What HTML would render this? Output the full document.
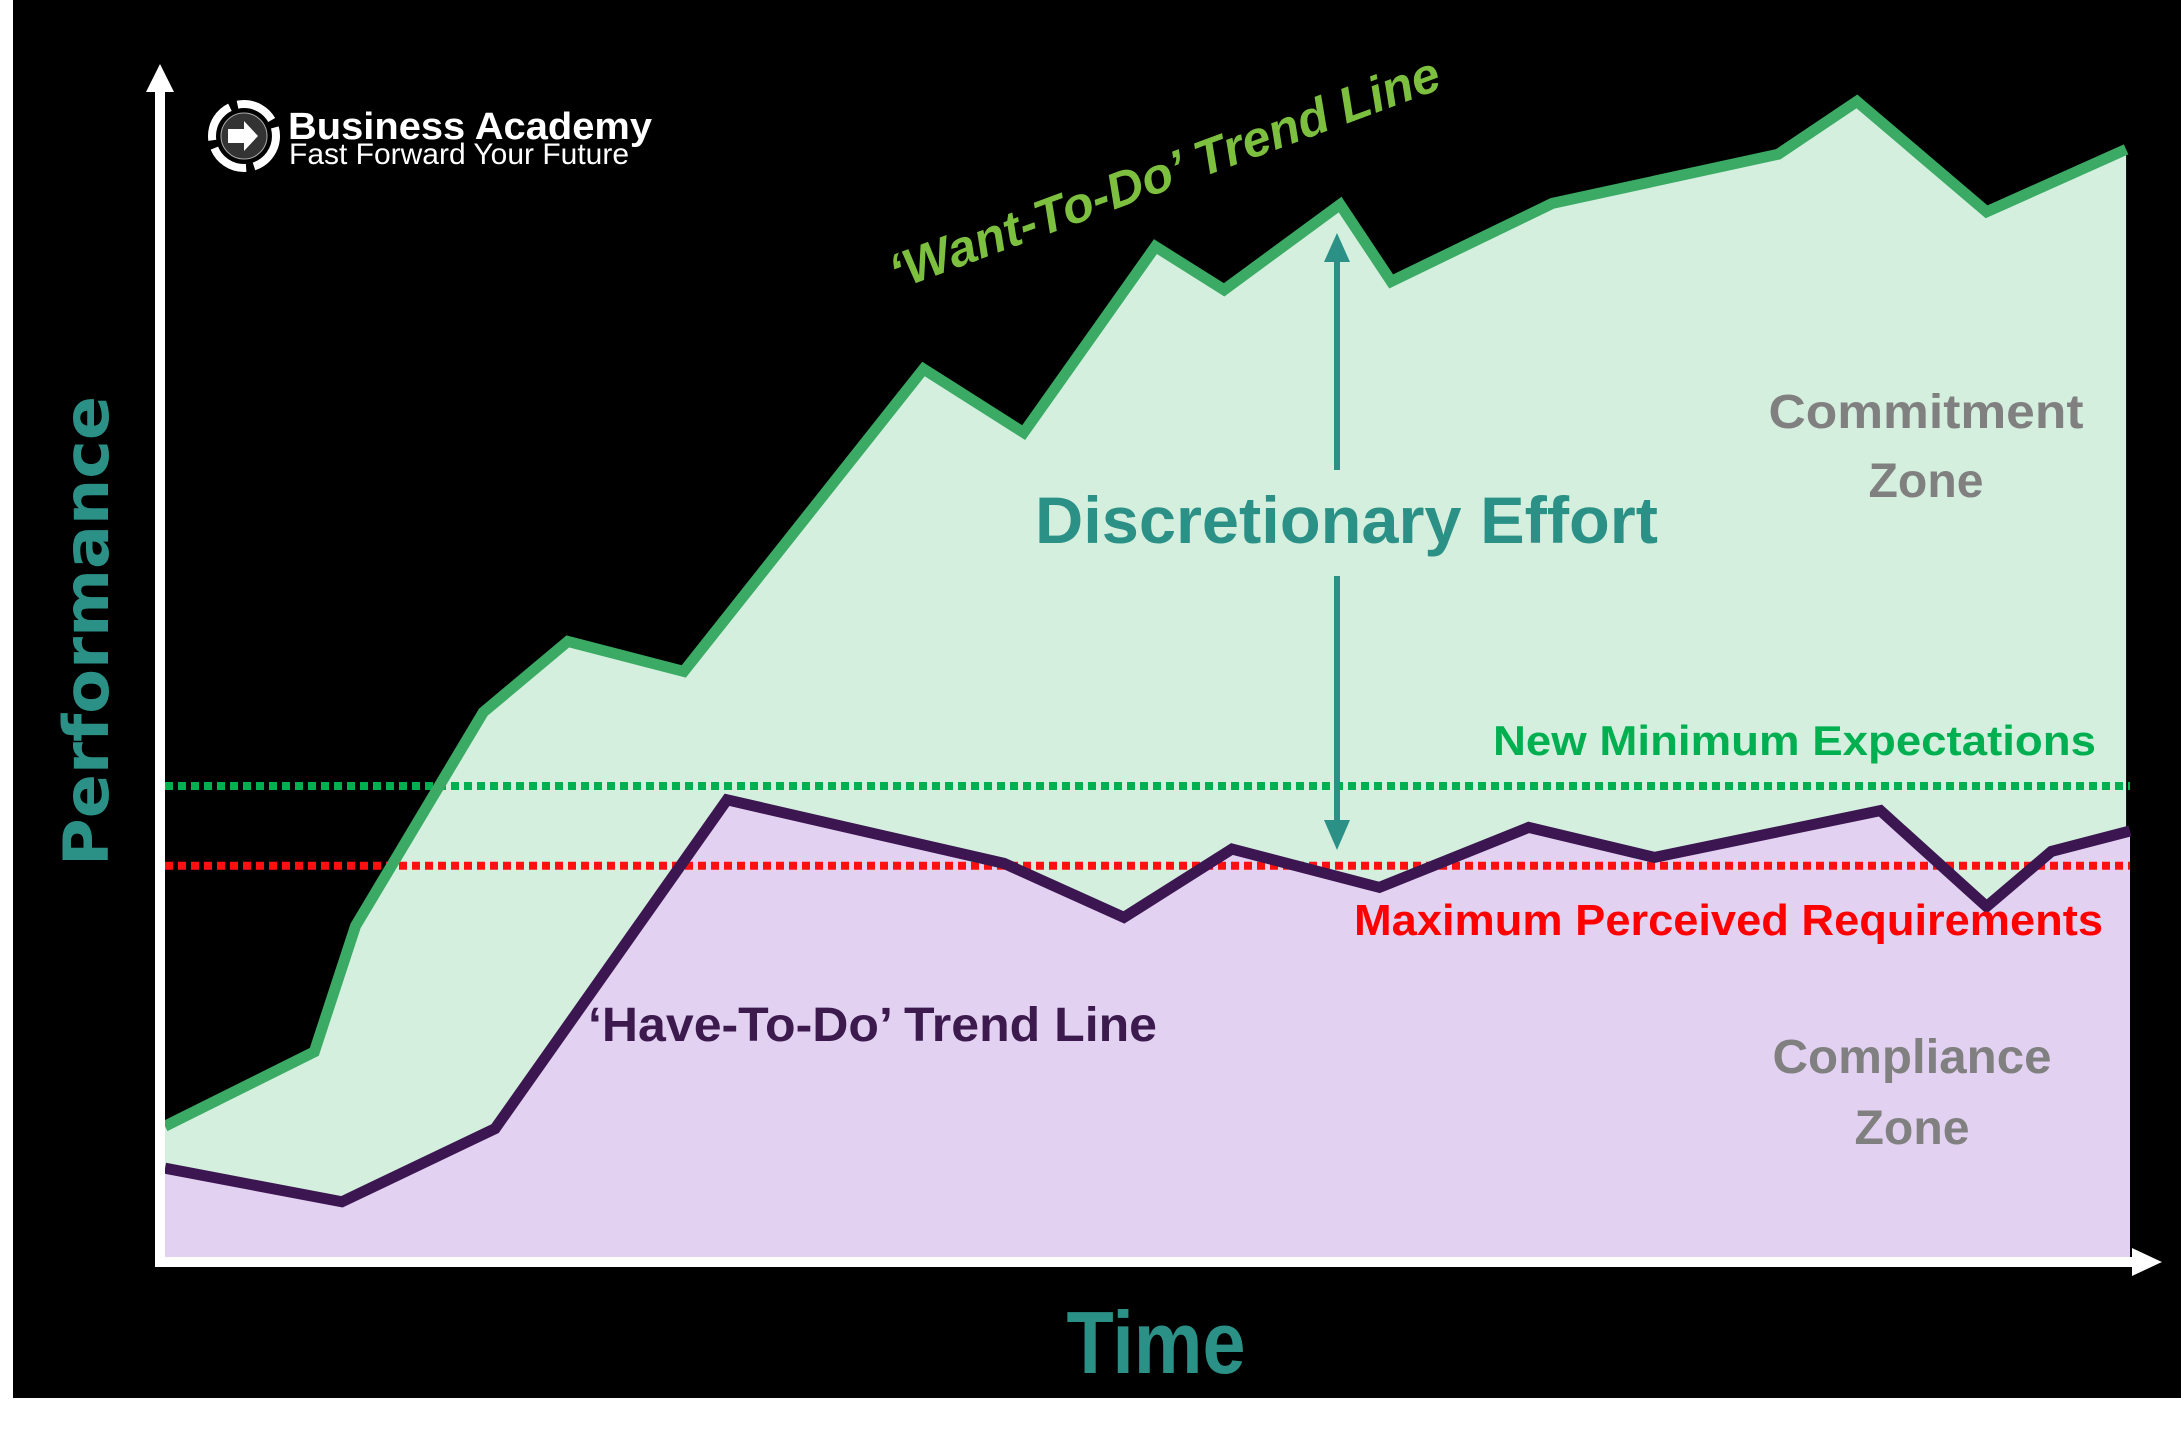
<!DOCTYPE html>
<html><head><meta charset="utf-8"><style>
html,body{margin:0;padding:0;background:#fff;}
svg{display:block;}
</style></head><body>
<svg id="chart" width="2181" height="1440" viewBox="0 0 2181 1440" xmlns="http://www.w3.org/2000/svg">
<rect x="13" y="0" width="2168" height="1398" fill="#000"/>
<g id="areas"></g>
<g id="lines"></g>
<g>
  <circle cx="244" cy="136" r="32" fill="none" stroke="#fff" stroke-width="8" stroke-dasharray="40 8"/>
  <circle cx="244" cy="136" r="23" fill="#333" stroke="#aaa" stroke-width="1"/>
  <polygon points="228,129 244,129 244,121 258,136 244,151 244,143 228,143" fill="#fff"/>
  <text x="288" y="139" font-family="Liberation Sans, sans-serif" font-weight="bold" font-size="38" fill="#fff" textLength="364" lengthAdjust="spacingAndGlyphs">Business Academy</text>
  <text x="289" y="164" font-family="Liberation Sans, sans-serif" font-size="30" fill="#fff" textLength="340" lengthAdjust="spacingAndGlyphs">Fast Forward Your Future</text>
</g>
<g>
  <rect x="155" y="88" width="10" height="1179" fill="#fff"/>
  <polygon points="146,92 160,64 174,92" fill="#fff"/>
  <rect x="155" y="1257" width="1985" height="10" fill="#fff"/>
  <polygon points="2132,1248 2162,1262 2132,1276" fill="#fff"/>
</g>
<text transform="translate(108,631) rotate(-90)" text-anchor="middle" font-family="DejaVu Sans, sans-serif" font-weight="bold" font-size="62" fill="#2b9187" textLength="470" lengthAdjust="spacingAndGlyphs">Performance</text>
<text x="1156" y="1373" text-anchor="middle" font-family="Liberation Sans, sans-serif" font-weight="bold" font-size="88" fill="#2b9187" textLength="179" lengthAdjust="spacingAndGlyphs">Time</text>
<g fill="#2b9187">
  <rect x="1334" y="258" width="6" height="212"/>
  <polygon points="1324,262 1337,233 1350,262"/>
  <rect x="1334" y="576" width="6" height="248"/>
  <polygon points="1324,820 1337,850 1350,820"/>
</g>
<text x="1035" y="543" font-family="Liberation Sans, sans-serif" font-weight="bold" font-size="66" fill="#2b9187" textLength="623" lengthAdjust="spacingAndGlyphs">Discretionary Effort</text>
<text transform="translate(897,290) rotate(-20.3)" font-family="Liberation Sans, sans-serif" font-weight="bold" font-style="italic" font-size="50" fill="#7dbf3f" textLength="583" lengthAdjust="spacingAndGlyphs">‘Want-To-Do’ Trend Line</text>
<text x="1493" y="755" font-family="Liberation Sans, sans-serif" font-weight="bold" font-size="42" fill="#00b050" textLength="603" lengthAdjust="spacingAndGlyphs">New Minimum Expectations</text>
<text x="1354" y="935" font-family="Liberation Sans, sans-serif" font-weight="bold" font-size="44" fill="#ff0000" textLength="749" lengthAdjust="spacingAndGlyphs">Maximum Perceived Requirements</text>
<text x="588" y="1041" font-family="Liberation Sans, sans-serif" font-weight="bold" font-size="48" fill="#3c1a4e" textLength="569" lengthAdjust="spacingAndGlyphs">‘Have-To-Do’ Trend Line</text>
<g font-family="Liberation Sans, sans-serif" font-weight="bold" font-size="48" fill="#808080" text-anchor="middle">
  <text x="1926" y="428" textLength="315" lengthAdjust="spacingAndGlyphs">Commitment</text>
  <text x="1926" y="497" textLength="115" lengthAdjust="spacingAndGlyphs">Zone</text>
</g>
<g font-family="Liberation Sans, sans-serif" font-weight="bold" font-size="48" fill="#808080" text-anchor="middle">
  <text x="1912" y="1073" textLength="279" lengthAdjust="spacingAndGlyphs">Compliance</text>
  <text x="1912" y="1144" textLength="115" lengthAdjust="spacingAndGlyphs">Zone</text>
</g>
</svg>
<script>
const wantT = [0,7.6,9.7,16.2,20.5,26.4,38.6,43.7,50.4,53.9,59.8,62.4,70.6,82.1,86.1,92.7,99.8];
const wantV = [10.9,17.1,27.6,45.4,51.3,48.8,74,68.7,84.2,80.6,87.7,81.3,87.8,91.9,96.3,87.1,92.3];
const haveT = [0,9,16.8,28.6,42.7,48.8,54.3,61.8,69.4,75.8,87.3,92.7,96,100];
const haveV = [7.4,4.6,10.7,38.1,32.8,28.3,34,30.8,35.8,33.3,37.2,29.2,33.8,35.5];
const newMinimum = 39.25;
const maxPerceived = 32.6;

const xs = t => 165 + t * 19.65;
const ys = v => 1257 - v * 12;
const NS = 'http://www.w3.org/2000/svg';
const areas = document.getElementById('areas');
const lines = document.getElementById('lines');

function pts(T, V){ return T.map((t,i)=>xs(t).toFixed(1)+','+ys(V[i]).toFixed(1)); }

function area(T, V, fill){
  const p = pts(T,V);
  const poly = document.createElementNS(NS,'polygon');
  poly.setAttribute('points', p.join(' ')+' '+xs(T[T.length-1]).toFixed(1)+','+ys(0)+' '+xs(T[0]).toFixed(1)+','+ys(0));
  poly.setAttribute('fill', fill);
  return poly;
}
const ga = area(wantT, wantV, '#d4efde');


areas.appendChild(ga);
const pa = area(haveT, haveV, '#e2d1f1');


areas.appendChild(pa);

function hline(v, color){
  const l = document.createElementNS(NS,'line');
  l.setAttribute('x1', xs(0)); l.setAttribute('x2', xs(100));
  l.setAttribute('y1', ys(v)); l.setAttribute('y2', ys(v));
  l.setAttribute('stroke', color); l.setAttribute('stroke-width', 8);
  l.setAttribute('stroke-dasharray', '8 5');
  return l;
}
const nm = hline(newMinimum, '#00b050');


lines.appendChild(nm);
const mp = hline(maxPerceived, '#ff1010');


lines.appendChild(mp);

function pline(T, V, color){
  const l = document.createElementNS(NS,'polyline');
  l.setAttribute('points', pts(T,V).join(' '));
  l.setAttribute('fill','none'); l.setAttribute('stroke', color);
  l.setAttribute('stroke-width', 11); l.setAttribute('stroke-linejoin','miter');
  return l;
}
const pl = pline(haveT, haveV, '#3c1650');


lines.appendChild(pl);
const gl = pline(wantT, wantV, '#3aaa64');


lines.appendChild(gl);
</script>
</body></html>
